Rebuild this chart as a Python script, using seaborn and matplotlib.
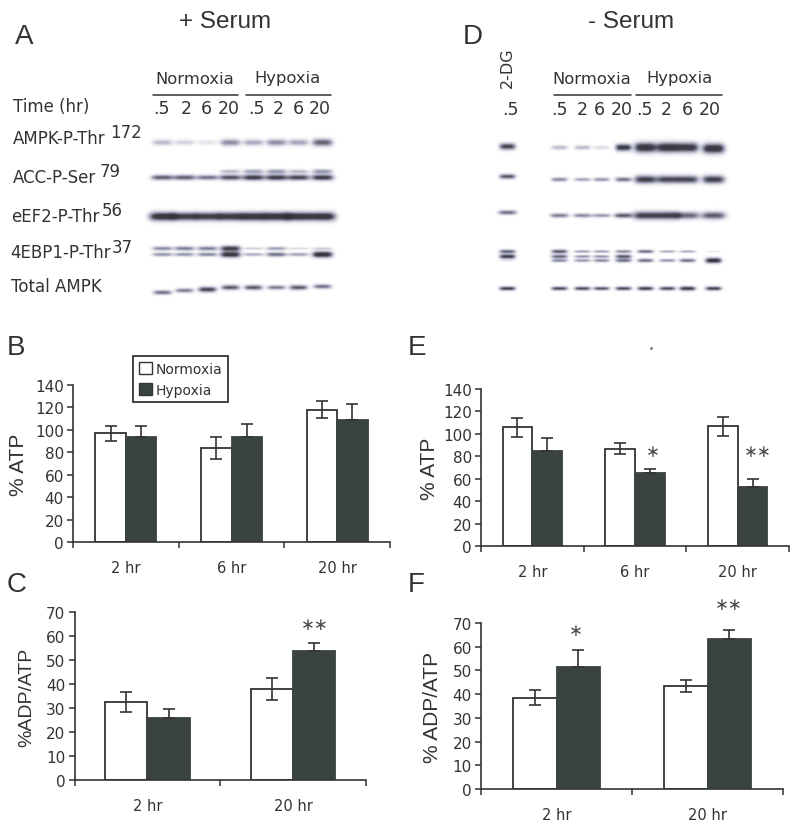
import numpy as np
import pandas as pd
import matplotlib
matplotlib.use('Agg')
import matplotlib.pyplot as plt
from matplotlib.colors import LinearSegmentedColormap
import seaborn as sns
sns.set_style('white')
plt.rcParams['font.family'] = ['DejaVu Sans']

W, H = 800, 828
INK = '#333333'
DARK = '#3a4242'
ARIAL = 'Liberation Sans'

# bar panels
conditions = ['Normoxia', 'Hypoxia']

b_times = ['2 hr', '6 hr', '20 hr']
b_norm = [97, 84, 118]
b_hyp = [94, 94, 108.5]
b_norm_err = [6.5, 10, 7.5]
b_hyp_err = [9.5, 11, 15]

c_times = ['2 hr', '20 hr']
c_norm = [32.5, 38]
c_hyp = [26, 53.7]
c_norm_err = [4.3, 4.7]
c_hyp_err = [3.7, 3.5]

e_times = ['2 hr', '6 hr', '20 hr']
e_norm = [105.8, 86.8, 106.7]
e_hyp = [84.7, 65.4, 53]
e_norm_err = [8.5, 5, 8.5]
e_hyp_err = [11.3, 3.3, 6.5]

f_times = ['2 hr', '20 hr']
f_norm = [38.5, 43.6]
f_hyp = [51.4, 63.4]
f_norm_err = [3.2, 2.5]
f_hyp_err = [7.3, 3.5]

# blot band strength per lane, 0 to 1
a_ampk = [.3, .2, .12, .5, .38, .5, .4, .68]
a_acc = [.68, .68, .6, .75, .85, .85, .8, .85]
a_acc_top = [0, 0, 0, .3, .4, .45, .3, .45]
a_eef2 = [1, .9, .9, .95, 1, 1, 1, 1]
a_ebp_top = [.5, .55, .55, .85, .2, .4, .15, .2]
a_ebp_low = [.45, .45, .5, .95, .35, .6, .4, 1]
a_total = [.6, .55, .8, .7, .7, .55, .7, .6]

d_ampk = [.8, .3, .3, .15, .9, 1, 1, .95, 1]
d_acc = [.7, .5, .4, .45, .6, .85, .8, .8, .85]
d_eef2 = [.6, .55, .5, .45, .7, .85, .85, .65, .7]
d_ebp_top = [.65, .7, .4, .4, .5, .6, .35, .35, .1]
d_ebp_mid = [.85, .65, .45, .45, .7, .0, .0, .0, .0]
d_ebp_low = [.1, .5, .45, .5, .6, .6, .45, .6, .95]
d_total = [.8, .75, .75, .7, .75, .8, .75, .85, .8]


def px_axes(fig, left, right, top, bottom):
    return fig.add_axes([left / W, 1 - bottom / H, (right - left) / W, (bottom - top) / H])


def bar_panel(ax, times, norm, hyp, norm_err, hyp_err, ymax, ystep, ylabel, label_x, label_size=15):
    df = pd.DataFrame({'time': times * 2,
                       'cond': [conditions[0]] * len(times) + [conditions[1]] * len(times),
                       'value': norm + hyp})
    sns.barplot(data=df, x='time', y='value', hue='cond', hue_order=conditions,
                palette=['white', DARK], width=0.58, gap=0, saturation=1,
                edgecolor=INK, linewidth=1.3, ax=ax, legend=False)
    for bar in ax.containers[1]:
        bar.set_edgecolor(DARK)
    for cont, errs, low in zip(ax.containers, [norm_err, hyp_err], [True, False]):
        for bar, err in zip(cont, errs):
            xc = bar.get_x() + bar.get_width() / 2
            yerr = [[err if low else 0], [err]]
            ax.errorbar(xc, bar.get_height(), yerr=yerr, color=INK, capsize=4, lw=1.2, capthick=1.2)
    n = len(times)
    ax.set_xlim(-0.5, n - 0.5)
    ax.set_ylim(0, ymax)
    ax.set_yticks(np.arange(0, ymax + 1, ystep))
    ax.set_xticks(np.arange(n + 1) - 0.5)
    ax.set_xticklabels([])
    ax.set_xticks(np.arange(n), labels=times, minor=True)
    ax.tick_params(axis='x', which='major', length=4.5, width=1.1, bottom=True, color=INK)
    ax.tick_params(axis='x', which='minor', length=0, pad=13, labelsize=10.5, labelcolor=INK)
    ax.tick_params(axis='y', length=4.5, width=1.1, left=True, color=INK, labelsize=11, labelcolor=INK, pad=2)
    sns.despine(ax=ax)
    for s in ['left', 'bottom']:
        ax.spines[s].set_color(INK)
        ax.spines[s].set_linewidth(1.2)
    ax.set_xlabel('')
    ax.set_ylabel(ylabel, fontsize=label_size, family=ARIAL, color=INK, va='center')
    bb = ax.get_position()
    ax.yaxis.set_label_coords((label_x / W - bb.x0) / bb.width, 0.5)
    ax.patch.set_alpha(0)


def stars(ax, x, y, s):
    ax.text(x, y, s, ha='center', va='center', fontsize=12, color='#4a4a4a', clip_on=False)


def add_band(img, xc, yc, strength, half_w=10, sigma=2.2):
    yy, xx = np.mgrid[0:img.shape[0], 0:img.shape[1]]
    shape = np.exp(-((xx - xc) / half_w) ** 4) * np.exp(-((yy - yc) / (sigma + 2.0 * strength)) ** 2)
    img += strength * shape


fig = plt.figure(figsize=(W / 100, H / 100), dpi=100)

# page level layer in pixel coordinates, for blots and lettering
page = fig.add_axes([0, 0, 1, 1])
page.set_xlim(0, W)
page.set_ylim(H, 0)
page.axis('off')

cmap = LinearSegmentedColormap.from_list('blot', ['white', '#a4a4bc', '#44444f', '#2b2b33'])
img = np.zeros((H, W))

a_lanes = [162, 184, 207, 230, 253, 276, 298, 322]
a_total_y = [293, 291, 290, 288, 288, 288, 288, 287]
for i, x in enumerate(a_lanes):
    add_band(img, x, 143, a_ampk[i])
    add_band(img, x, 178, a_acc[i], half_w=11, sigma=1.2)
    add_band(img, x, 172, a_acc_top[i], half_w=10, sigma=1.4)
    add_band(img, x, 217, a_eef2[i], half_w=13, sigma=2.2)
    add_band(img, x, 249, a_ebp_top[i], sigma=1.0)
    add_band(img, x, 255, a_ebp_low[i], sigma=1.0)
    add_band(img, x, a_total_y[i], a_total[i], half_w=9, sigma=1.0)

d_lanes = [507, 559, 582, 601, 623, 645, 667, 687, 713]
d_ampk_y = [147, 148, 148, 148, 148, 148, 148, 148, 149]
for i, x in enumerate(d_lanes):
    wide = 8 if i < 5 else 11
    thick = 0.6 if i < 5 else 1.8
    add_band(img, x, d_ampk_y[i], d_ampk[i], half_w=wide, sigma=thick + 1.0)
    add_band(img, x, 177 if i == 0 else 180, d_acc[i], half_w=wide, sigma=thick + 0.4)
    add_band(img, x, 213 if i == 0 else 216, d_eef2[i], half_w=wide + 1, sigma=thick + 0.4)
    add_band(img, x, 252, d_ebp_top[i], half_w=8, sigma=0.6)
    add_band(img, x, 257, d_ebp_mid[i], half_w=8, sigma=0.6)
    add_band(img, x, 261, d_ebp_low[i], half_w=8, sigma=0.7)
    add_band(img, x, 289, d_total[i], half_w=8, sigma=0.4)

page.imshow(np.clip(img, 0, 1.2), cmap=cmap, vmin=0, vmax=1.2, extent=(0, W, H, 0), aspect='auto', interpolation='bilinear')
page.set_xlim(0, W)
page.set_ylim(H, 0)

# titles and panel letters
page.text(225, 22, '+ Serum', ha='center', va='center', fontsize=17.5, family=ARIAL, color=INK)
page.text(631, 22, '- Serum', ha='center', va='center', fontsize=17.5, family=ARIAL, color=INK)
for s, x, y in [('A', 15, 37), ('D', 463, 37), ('B', 7, 348), ('C', 7, 585), ('E', 408, 348), ('F', 408, 585)]:
    page.text(x, y, s, ha='left', va='center', fontsize=20, family=ARIAL, color=INK)

# blot labels
for s, x, y in [('Time (hr)', 13, 107), ('AMPK-P-Thr', 13, 139), ('ACC-P-Ser', 13, 178),
                ('eEF2-P-Thr', 11, 217), ('4EBP1-P-Thr', 10, 253), ('Total AMPK', 11, 287)]:
    page.text(x, y, s, ha='left', va='center', fontsize=12, color=INK)
for s, x, y in [('172', 110, 133), ('79', 100, 172), ('56', 102, 211), ('37', 112, 248)]:
    page.text(x, y, s, ha='left', va='center', fontsize=12, color=INK)

for s, x in [('Normoxia', 195), ('Hypoxia', 288), ('Normoxia', 592), ('Hypoxia', 679)]:
    page.text(x, 79, s, ha='center', va='center', fontsize=11.8, color=INK)
for x0, x1 in [(153, 238), (246, 331), (554, 631), (636, 722)]:
    page.plot([x0, x1], [96, 96], color=INK, lw=1.1)

a_lane_text = ['.5', '2', '6', '20', '.5', '2', '6', '20']
for s, x in zip(a_lane_text, [161, 186, 206, 229, 256, 278, 298, 320]):
    page.text(x, 109, s, ha='center', va='center', fontsize=12.5, color=INK)
for s, x in zip(a_lane_text, [559, 582, 599, 622, 644, 666, 687, 710]):
    page.text(x, 110, s, ha='center', va='center', fontsize=12.5, color=INK)
page.text(510, 110, '.5', ha='center', va='center', fontsize=12.5, color=INK)
page.text(507, 68, '2-DG', ha='center', va='center', rotation=90, fontsize=11.5, color=INK)
page.plot([651], [349], marker='o', ms=1, color='#777777')

# B
ax_b = px_axes(fig, 73, 390, 386, 543)
bar_panel(ax_b, b_times, b_norm, b_hyp, b_norm_err, b_hyp_err, 140, 20, '% ATP', 19)
handles = [plt.Rectangle((0, 0), 1, 1, fc=c, ec=INK, lw=1) for c in ['white', DARK]]
leg = ax_b.legend(handles, conditions, loc='upper left', bbox_to_anchor=(133 / W, 1 - 357 / H),
                  bbox_transform=fig.transFigure, fontsize=10, frameon=True, fancybox=False,
                  edgecolor='#222222', framealpha=1, handlelength=1, handleheight=1,
                  handletextpad=0.2, borderaxespad=0, borderpad=0.4, labelspacing=0.5, labelcolor=INK)
leg.get_frame().set_linewidth(1.2)

# C
ax_c = px_axes(fig, 74.5, 366, 613, 781)
bar_panel(ax_c, c_times, c_norm, c_hyp, c_norm_err, c_hyp_err, 70, 10, '%ADP/ATP', 27, label_size=14)
stars(ax_c, 1.15, 65, '∗∗')

# E
ax_e = px_axes(fig, 481, 789, 390, 547)
bar_panel(ax_e, e_times, e_norm, e_hyp, e_norm_err, e_hyp_err, 140, 20, '% ATP', 430)
stars(ax_e, 1.17, 85, '∗')
stars(ax_e, 2.2, 85, '∗∗')

# F
ax_f = px_axes(fig, 481, 783, 624, 790)
bar_panel(ax_f, f_times, f_norm, f_hyp, f_norm_err, f_hyp_err, 70, 10, '% ADP/ATP', 432)
stars(ax_f, 0.13, 67, '∗')
stars(ax_f, 1.14, 78, '∗∗')

fig.savefig('out.png', dpi=100)
